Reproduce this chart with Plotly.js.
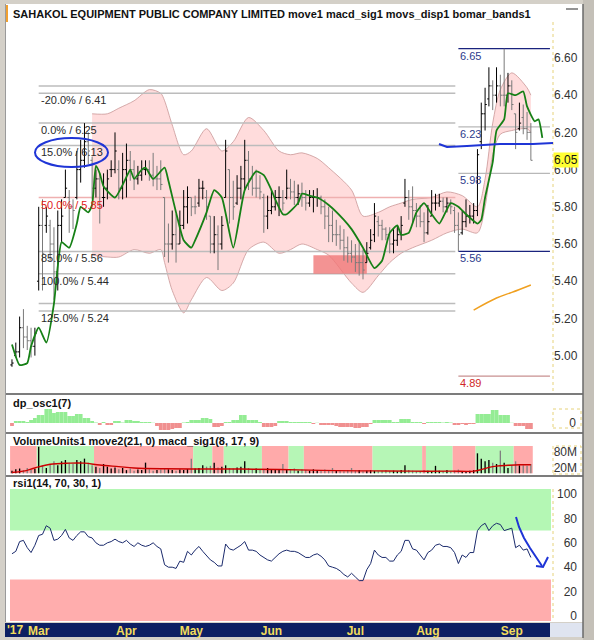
<!DOCTYPE html>
<html><head><meta charset="utf-8">
<script src="https://cdn.plot.ly/plotly-3.0.1.min.js"></script>
<style>html,body{margin:0;padding:0;background:#d4d0c8;}#chart{width:594px;height:640px;}</style>
</head><body><div id="chart"></div>
<script>
// ---------------- DATA ----------------
const monthTickIdx = [7, 30, 47, 68, 90, 109, 131];
const monthTickText = ['Mar', 'Apr', 'May', 'Jun', 'Jul', 'Aug', 'Sep'];

const barOpen = [4.95,5.00,5.02,5.15,5.10,5.08,5.05,5.40,5.70,5.70,
 5.70,5.60,5.45,5.70,5.85,5.85,5.80,5.85,6.00,6.05,
 6.15,6.05,5.90,5.95,5.85,5.90,6.00,6.00,6.00,5.90,
 6.00,6.05,6.00,5.95,5.97,6.00,6.00,5.97,5.95,5.95,
 5.85,5.60,5.60,5.65,5.60,5.70,5.80,5.85,5.80,5.82,
 5.90,5.85,5.75,5.60,5.65,5.60,5.85,6.00,5.85,5.82,
 5.90,5.95,6.05,5.95,5.90,5.90,5.85,5.75,5.78,5.80,
 5.85,5.85,5.85,5.90,5.88,5.85,5.87,5.85,5.82,5.85,
 5.85,5.85,5.80,5.75,5.70,5.65,5.65,5.62,5.58,5.55,
 5.53,5.50,5.50,5.50,5.58,5.65,5.72,5.70,5.68,5.65,
 5.60,5.62,5.65,5.82,5.85,5.80,5.78,5.75,5.72,5.66,
 5.75,5.82,5.82,5.83,5.80,5.82,5.78,5.70,5.66,5.72,
 5.75,5.75,5.78,6.15,6.30,6.38,6.45,6.40,6.45,6.40,
 6.40,6.45,6.30,6.22,6.28,6.22,6.20];
const barHigh = [4.98,5.07,5.21,5.25,5.16,5.15,5.15,5.80,5.84,5.80,
 5.73,5.69,5.78,5.84,6.00,5.89,5.84,6.10,6.16,6.25,
 6.20,6.07,6.00,5.98,5.98,6.00,6.05,6.20,6.05,6.09,
 6.14,6.10,6.05,6.02,6.05,6.05,6.05,6.09,6.02,6.05,
 5.85,5.71,5.78,5.76,5.78,5.89,5.91,5.85,5.86,5.95,
 5.94,5.89,5.75,5.75,5.70,5.75,6.16,6.00,5.94,5.97,
 6.02,6.16,6.10,6.02,6.00,5.97,5.87,5.86,5.89,5.89,
 5.91,5.89,6.00,5.95,5.94,5.92,5.93,5.89,5.89,5.89,
 5.90,5.86,5.84,5.80,5.78,5.73,5.70,5.68,5.64,5.62,
 5.60,5.61,5.57,5.61,5.68,5.82,5.75,5.73,5.69,5.69,
 5.68,5.70,5.75,5.95,5.89,5.91,5.82,5.81,5.77,5.81,
 5.89,5.87,5.87,5.85,5.85,5.84,5.80,5.77,5.78,5.84,
 5.81,5.82,6.11,6.36,6.44,6.55,6.48,6.55,6.51,6.65,
 6.52,6.48,6.30,6.36,6.35,6.31,6.25];
const barLow = [4.94,4.99,4.99,5.04,5.03,4.99,5.00,5.35,5.35,5.66,
 5.51,5.30,5.35,5.61,5.85,5.66,5.68,5.84,5.93,6.01,
 6.03,5.84,5.85,5.71,5.80,5.84,5.96,5.98,5.84,5.84,
 5.85,5.94,5.89,5.92,5.94,5.97,5.94,5.91,5.89,5.89,
 5.53,5.50,5.57,5.50,5.60,5.68,5.71,5.75,5.76,5.80,
 5.84,5.73,5.55,5.55,5.46,5.57,5.85,5.71,5.73,5.81,
 5.84,5.89,5.89,5.86,5.85,5.84,5.66,5.68,5.76,5.78,
 5.75,5.78,5.84,5.84,5.81,5.81,5.80,5.78,5.80,5.77,
 5.80,5.76,5.68,5.61,5.61,5.59,5.57,5.51,5.50,5.50,
 5.45,5.43,5.41,5.50,5.57,5.61,5.64,5.62,5.62,5.55,
 5.55,5.59,5.62,5.80,5.73,5.71,5.69,5.69,5.61,5.65,
 5.75,5.78,5.80,5.77,5.77,5.76,5.66,5.56,5.65,5.69,
 5.71,5.71,5.75,6.11,6.21,6.34,6.32,6.36,6.34,6.34,
 6.36,6.32,6.11,6.21,6.19,6.16,6.05];
const barClose = [4.96,5.02,5.15,5.10,5.08,5.05,5.12,5.70,5.55,5.75,
 5.60,5.45,5.70,5.75,5.90,5.80,5.78,6.00,6.05,6.15,
 6.10,5.90,5.95,5.80,5.85,5.95,6.00,6.10,5.90,6.00,
 6.05,6.00,5.95,5.97,6.00,6.00,5.97,5.95,5.95,5.92,
 5.60,5.60,5.65,5.60,5.70,5.80,5.85,5.80,5.80,5.90,
 5.90,5.80,5.60,5.65,5.60,5.70,6.10,5.85,5.80,5.90,
 5.95,6.05,5.95,5.90,5.90,5.88,5.75,5.78,5.80,5.85,
 5.85,5.82,5.90,5.88,5.85,5.87,5.85,5.82,5.85,5.85,
 5.85,5.80,5.75,5.70,5.65,5.65,5.62,5.58,5.55,5.53,
 5.50,5.50,5.46,5.55,5.62,5.75,5.70,5.68,5.65,5.60,
 5.62,5.65,5.70,5.85,5.80,5.78,5.75,5.72,5.66,5.72,
 5.82,5.82,5.83,5.80,5.82,5.80,5.70,5.65,5.72,5.75,
 5.75,5.78,6.08,6.30,6.35,6.45,6.40,6.45,6.40,6.40,
 6.45,6.35,6.20,6.25,6.22,6.20,6.05];

// displaced moving average (green), read at sample bars
const maIdx = [0,2,4,5,7,9,11,12,13,15,17,18,20,21,22,23,24,27,30,31,32,34,35,37,40,41,43,45,47,48,51,53,55,58,61,64,66,68,69,71,72,75,76,78,80,83,87,89,92,95,97,99,101,102,104,106,108,110,112,115,117,119,122,123,124,126,127,129,130,132,134,135,137,138,139];
const maVal = [5.06,4.95,4.96,5.05,5.15,5.07,5.28,5.48,5.61,5.58,5.71,5.80,5.77,5.81,6.02,5.98,5.91,5.85,5.96,6.00,5.95,6.00,6.01,5.95,6.01,5.94,5.77,5.62,5.58,5.62,5.77,5.89,5.85,5.58,5.89,5.99,5.97,5.89,5.84,5.76,5.76,5.82,5.87,5.86,5.85,5.81,5.73,5.68,5.58,5.47,5.51,5.66,5.70,5.65,5.66,5.77,5.82,5.76,5.71,5.82,5.80,5.76,5.71,5.73,5.85,6.04,6.21,6.27,6.41,6.40,6.42,6.34,6.26,6.27,6.17];

// bomar bands
const bandIdx = [21,25,28,32,36,39,40,42,45,47,51,55,58,62,66,70,73,76,80,83,89,92,96,99,102,105,110,114,118,122,124,126,128,131,135,136];
const bandUpper = [6.30,6.30,6.33,6.37,6.43,6.41,6.37,6.24,6.08,6.10,6.22,6.10,6.15,6.28,6.21,6.10,6.08,6.09,6.06,6.01,5.89,5.75,5.77,5.80,5.82,5.84,5.85,5.88,5.86,5.80,5.95,6.25,6.43,6.52,6.44,6.40];
const bandLower = [5.54,5.53,5.53,5.57,5.55,5.57,5.50,5.35,5.23,5.30,5.42,5.35,5.39,5.57,5.61,5.55,5.57,5.60,5.57,5.54,5.39,5.34,5.43,5.50,5.55,5.58,5.62,5.66,5.68,5.66,5.80,6.08,6.19,6.21,6.22,6.20];

// orange line
const orangeIdx = [121, 127, 131, 136];
const orangeVal = [5.245, 5.31, 5.34, 5.38];

// fibonacci levels
const fibLevels = [6.45, 6.41, 6.25, 6.13, 5.85, 5.56, 5.44, 5.28, 5.24];
const fibText = ['', '-20.0% / 6.41', '0.0% / 6.25', '15.0% / 6.13', '50.0% / 5.85', '85.0% / 5.56', '100.0% / 5.44', '', '125.0% / 5.24'];

// right-side levels
const rightLevels = [6.65, 6.23, 5.98, 5.56, 4.89];
const rightText = ['6.65', '6.23', '5.98', '5.56', '4.89'];

// highlighted zone (bar range, price range)
const zoneBars = [79, 93];
const zonePrice = [5.44, 5.54];

const lastPrice = 6.05;
const priceTicks = [5.0, 5.2, 5.4, 5.6, 5.8, 6.0, 6.2, 6.4, 6.6];

// dp oscillator
const dpVal = [-1.2,0.8,0.8,0.8,0.4,1.2,2.0,3.2,3.2,5.6,
 5.6,4.0,4.4,4.4,4.4,2.8,2.8,3.6,3.6,2.0,
 2.0,0.8,0.2,-0.8,0.4,-0.8,-0.8,0.8,0.8,0.2,
 1.2,1.2,0.8,0.8,0.4,0.4,0.4,0.1,-1.2,-2.8,
 -2.8,-2.8,-2.4,-2.0,-2.0,0.2,0.4,1.2,1.2,1.2,
 2.0,2.0,1.6,-1.6,-1.6,-1.2,0.4,0.4,1.2,1.2,
 3.2,3.2,1.2,1.2,1.2,0.4,-1.6,-1.6,-1.6,-1.2,
 0.8,0.8,0.8,0.4,0.4,0.4,0.4,0.4,0.4,-0.4,
 0.1,-0.8,-0.8,-0.8,-0.8,-1.2,-1.6,-1.6,-1.6,-1.6,
 -2.0,-2.0,-1.6,-1.6,-0.4,1.2,1.2,1.2,1.2,1.2,
 0.4,0.4,1.6,1.6,1.6,0.4,0.4,0.4,-0.4,0.4,
 0.4,0.4,0.4,0.2,0.4,0.2,-0.8,-0.8,-0.4,-0.8,
 -0.4,-0.4,3.6,3.6,3.6,3.6,5.2,5.2,3.2,3.2,
 3.2,0.1,-1.2,-1.2,-1.2,-2.4,-2.4];

// volume (millions)
const volume = [10,15,18,12,20,14,16,100,30,20,
 35,45,30,45,50,40,35,50,45,55,
 40,30,25,20,35,25,18,22,15,20,
 12,18,10,14,12,40,15,10,12,14,
 20,15,12,10,14,12,16,55,18,20,
 30,25,28,40,22,25,30,20,18,22,
 25,45,20,15,18,12,15,20,14,12,
 15,35,15,12,18,10,14,12,10,15,
 12,10,14,12,20,12,10,8,12,20,
 10,12,8,10,12,9,8,10,12,9,
 10,8,12,30,12,10,8,9,12,10,
 8,28,10,9,12,8,10,14,9,8,
 10,12,75,55,45,50,40,35,85,40,
 20,30,45,30,30,28,35];
const volMaIdx = [0,3,6,10,15,19,23,28,32,40,50,60,70,78,85,95,105,115,121,123,125,127,130,133,136];
const volMaVal = [3,8,20,34,38,38,31,25,20,17,16,16,14,12,10,9,8,8,8,14,22,27,30,32,32];
// macd_sig regime shading boundaries
const regimeBounds = [-0.5,6.5,21.5,47.5,52.5,55.5,65.5,72.5,76.5,94.5,107.5,108.5,115.5,121.5,131.5,136.5];
const regimeState = ['dn','up','dn','up','dn','up','dn','up','dn','up','dn','up','dn','up','dn'];

// RSI
const rsiVal = [51,53,61,62,56,52,58,66,67,74, 72,62,63,66,71,64,62,66,69,69,
 65,64,60,58,58,60,61,63,61,60, 62,59,57,60,58,57,58,60,57,55,
 42,40,40,39,45,44,53,50,54,57, 53,49,46,44,41,41,59,55,54,56,
 58,61,54,54,53,50,48,46,45,48, 51,53,54,53,53,52,50,48,48,50,
 51,49,46,41,40,39,37,34,32,35, 32,29,29,38,43,54,50,48,48,45,
 45,50,53,62,62,55,54,50,46,52, 54,58,59,57,57,56,52,43,50,48,
 52,52,70,74,76,70,74,76,75,70, 71,72,56,58,54,55,48];
const rsiUpper = 70, rsiLower = 30;

// ---------------- STYLE / LAYOUT ----------------
const W = 594, H = 640;
const px = x => x / W, py = y => 1 - y / H;
const FONT = 'Liberation Sans, Arial, sans-serif';
const idx = barClose.map((_, i) => i);
const FIB_X0 = 7, FIB_X1 = 116.2, RL_X0 = 117, RL_X1 = 141;
const PRICE_RANGE = [4.799, 6.7935];

const traces = [];
traces.push({type:'scatter', x:bandIdx, y:bandLower, mode:'lines', line:{color:'#c99797', width:0.8, shape:'spline', smoothing:0.8}, hoverinfo:'skip'});
traces.push({type:'scatter', x:bandIdx, y:bandUpper, mode:'lines', fill:'tonexty', fillcolor:'#ffdcdc', line:{color:'#c99797', width:0.8, shape:'spline', smoothing:0.8}, hoverinfo:'skip'});
fibLevels.forEach((v, k) => traces.push({type:'scatter', x:[FIB_X0, FIB_X1], y:[v, v], mode:'lines',
  line:{color: fibText[k].startsWith('50') ? '#efb0b0' : '#bcbcbc', width:1.5}, hoverinfo:'skip'}));
const rightColors = ['#1a237e', '#b8b8b8', '#b8b8b8', '#1a237e', '#c89090'];
rightLevels.forEach((v, k) => traces.push({type:'scatter', x:[RL_X0, RL_X1], y:[v, v], mode:'lines',
  line:{color: rightColors[k], width:1.3}, hoverinfo:'skip'}));
traces.push({type:'scatter', x:[zoneBars[0], zoneBars[1], zoneBars[1], zoneBars[0], zoneBars[0]],
  y:[zonePrice[0], zonePrice[0], zonePrice[1], zonePrice[1], zonePrice[0]], mode:'lines', fill:'toself',
  fillcolor:'rgba(240,120,120,0.8)', line:{width:0}, hoverinfo:'skip'});
traces.push({type:'scatter', x:orangeIdx, y:orangeVal, mode:'lines', line:{color:'#f0a020', width:1.5, shape:'spline'}, hoverinfo:'skip'});
// price bars and MA on an overlaying axis so they sit above the bands
traces.push({type:'ohlc', x:idx, open:barOpen, high:barHigh, low:barLow, close:barClose, tickwidth:0.45, yaxis:'y5',
  increasing:{line:{color:'#000000', width:1}}, decreasing:{line:{color:'#7a7a7a', width:1}}, hoverinfo:'skip'});
traces.push({type:'scatter', x:maIdx, y:maVal, yaxis:'y5', mode:'lines', line:{color:'#168016', width:1.8, shape:'spline', smoothing:0.5}, hoverinfo:'skip'});
// dp osc
traces.push({type:'bar', x:idx, y:dpVal, width:1, yaxis:'y2', marker:{color: dpVal.map(v => v >= 0 ? '#94ec94' : '#f09090'), line:{width:0}}, hoverinfo:'skip'});
// volume
traces.push({type:'bar', x:idx, y:volume, width:0.35, yaxis:'y3', marker:{color: barClose.map((c, i) => c >= barOpen[i] ? '#000' : '#808080'), line:{width:0}}, hoverinfo:'skip'});
traces.push({type:'scatter', x:volMaIdx, y:volMaVal, yaxis:'y3', mode:'lines', line:{color:'#cc0000', width:1.4, shape:'spline'}, hoverinfo:'skip'});
// rsi
traces.push({type:'scatter', x:idx, y:rsiVal, yaxis:'y4', mode:'lines', line:{color:'#1a2a6c', width:1}, hoverinfo:'skip'});

const shapes = [];
const rectP = (x0, y0, x1, y1, fill, extra) => Object.assign({type:'rect', xref:'paper', yref:'paper', x0:px(x0), x1:px(x1), y0:py(y1), y1:py(y0), fillcolor:fill, line:{width:0}, layer:'below'}, extra || {});
shapes.push(rectP(5, 4, 583, 622, '#ffffff'));
shapes.push(rectP(5, 5, 8, 22, '#f0a030'));
// regime shading in volume panel (0 .. panel top)
for (let k = 0; k < regimeState.length; k++) {
  shapes.push({type:'rect', xref:'x', yref:'y3', x0:regimeBounds[k], x1:regimeBounds[k+1], y0:0, y1:102.4,
    fillcolor: regimeState[k] === 'up' ? '#b6f6b6' : '#ffaaaa', line:{width:0}, layer:'below'});
}
// RSI zones
shapes.push({type:'rect', xref:'paper', yref:'y4', x0:px(10), x1:px(551), y0:rsiUpper, y1:104.2, fillcolor:'#b4f7b4', line:{width:0}, layer:'below'});
shapes.push({type:'rect', xref:'paper', yref:'y4', x0:px(10), x1:px(551), y0:-4.2, y1:rsiLower, fillcolor:'#ffadad', line:{width:0}, layer:'below'});
// bottom time bar
shapes.push(rectP(5, 623, 550, 637, '#0d1f63'));
shapes.push(rectP(550, 623, 583, 637, '#dfe4f0'));
shapes.push(rectP(583, 0, 594, 640, '#c4c0b8'));
// separators and borders
const lineP = (x0, y0, x1, y1, color, w, dash) => ({type:'line', xref:'paper', yref:'paper', x0:px(x0), x1:px(x1), y0:py(y0), y1:py(y1), line:{color:color, width:w, dash:dash || 'solid'}, layer:'above'});
shapes.push(lineP(5, 394, 583, 394, '#505050', 1.5));
shapes.push(lineP(5, 433, 583, 433, '#505050', 1.5));
shapes.push(lineP(5, 476, 583, 476, '#505050', 1.5));
shapes.push(lineP(583, 4, 583, 638, '#6a6a6a', 1.5));
shapes.push(lineP(5.5, 4, 5.5, 622, '#9a9a9a', 1));
shapes.push(lineP(553, 22, 553, 392, '#e6d27a', 1, 'dot'));
shapes.push(lineP(553, 489, 553, 621, '#e6d27a', 1, 'dot'));
shapes.push(Object.assign(rectP(553, 409, 581, 428, 'rgba(0,0,0,0)'), {line:{color:'#e6d27a', width:1, dash:'dot'}, layer:'above'}));
shapes.push(Object.assign(rectP(553, 446, 581, 474, 'rgba(0,0,0,0)'), {line:{color:'#e6d27a', width:1, dash:'dot'}, layer:'above'}));
shapes.push(lineP(566, 9, 578, 9, '#707070', 1.5));
// hand-drawn blue marks
const BLUE = '#1f35d6';
const pathP = pts => 'M' + pts.map(p => px(p[0]).toFixed(5) + ',' + py(p[1]).toFixed(5)).join(' L');
shapes.push({type:'circle', xref:'paper', yref:'paper', x0:px(35), x1:px(108), y0:py(167), y1:py(138), line:{color:BLUE, width:2}, layer:'above'});
shapes.push({type:'path', xref:'paper', yref:'paper', path:pathP([[439,144],[447,147],[467,146],[500,144],[533,144],[553,143]]), line:{color:BLUE, width:2}, layer:'above'});
shapes.push({type:'path', xref:'paper', yref:'paper', path:pathP([[516,517],[519,527],[524,538],[530,548],[536,557],[542,566]]), line:{color:BLUE, width:2}, layer:'above'});
shapes.push({type:'path', xref:'paper', yref:'paper', path:pathP([[536,566],[543,567],[548,557]]), line:{color:BLUE, width:2}, layer:'above'});

const annotations = [];
const annP = (x, y, text, font, extra) => Object.assign({xref:'paper', yref:'paper', x:px(x), y:py(y), text:text, showarrow:false, xanchor:'left', yanchor:'middle', font:Object.assign({family:FONT, size:11, color:'#111'}, font || {})}, extra || {});
annotations.push(annP(11, 14, '<b>SAHAKOL EQUIPMENT PUBLIC COMPANY LIMITED move1 macd_sig1 movs_disp1 bomar_bands1</b>', {size:11}));
annotations.push(annP(11, 403, '<b>dp_osc1(7)</b>'));
annotations.push(annP(11, 441, '<b>VolumeUnits1 move2(21, 0) macd_sig1(8, 17, 9)</b>'));
annotations.push(annP(11, 483, '<b>rsi1(14, 70, 30, 1)</b>'));
annotations.push(annP(5, 630, "<b>'17</b>", {color:'#f2dc5c', size:12}));
fibLevels.forEach((v, k) => { if (fibText[k]) annotations.push({xref:'x', yref:'y', x:FIB_X0, y:v, yshift:-7, text:fibText[k], showarrow:false, xanchor:'left', yanchor:'middle',
  font:{family:FONT, size:11, color: fibText[k].startsWith('50') ? '#e02020' : '#2a2a2a'}}); });
rightLevels.forEach((v, k) => annotations.push({xref:'x', yref:'y', x:RL_X0, y:v, yshift:-7, text:rightText[k], showarrow:false, xanchor:'left', yanchor:'middle',
  font:{family:FONT, size:11, color: k === 4 ? '#d02828' : '#2c3a8c'}}));
annotations.push({xref:'paper', yref:'y', x:px(553), y:lastPrice, text:lastPrice.toFixed(2), showarrow:false, xanchor:'left', yanchor:'middle',
  bgcolor:'#ffff33', borderpad:0, font:{family:FONT, size:12, color:'#111'}});

const yCommon = {showgrid:false, zeroline:false, showline:false, ticks:'', fixedrange:true, tickfont:{family:FONT, size:12, color:'#333'}};
const layout = {
  width:W, height:H, margin:{l:0, r:0, t:0, b:0},
  paper_bgcolor:'#d4d0c8', plot_bgcolor:'rgba(0,0,0,0)', showlegend:false,
  xaxis:{domain:[px(10), px(553)], range:[-0.52, 141.8], anchor:'free', position:py(622), showgrid:false, zeroline:false, showline:false, ticks:'',
    tickvals:monthTickIdx, ticktext:monthTickText, tickfont:{family:FONT, size:12, color:'#f2dc5c', weight:'bold'},
    rangeslider:{visible:false}, fixedrange:true},
  yaxis:Object.assign({}, yCommon, {domain:[py(393), py(22)], range:PRICE_RANGE, side:'right', anchor:'x', tickvals:priceTicks, tickformat:'.2f'}),
  yaxis5:Object.assign({}, yCommon, {overlaying:'y', range:PRICE_RANGE, side:'right', anchor:'x', visible:false, showticklabels:false}),
  yaxis2:Object.assign({}, yCommon, {domain:[py(432), py(395)], range:[-3.6, 11.2], side:'right', anchor:'free', position:px(579), ticklabelposition:'inside', tickvals:[0], ticktext:['0']}),
  yaxis3:Object.assign({}, yCommon, {domain:[py(478), py(440)], range:[-17.6, 124.9], side:'right', anchor:'free', position:px(580), ticklabelposition:'inside', tickvals:[20, 80], ticktext:['20M', '80M']}),
  yaxis4:Object.assign({}, yCommon, {domain:[py(630), py(480)], range:[-11.5, 111.5], side:'right', anchor:'free', position:px(580), ticklabelposition:'inside', tickvals:[0, 20, 40, 60, 80, 100]}),
  shapes:shapes, annotations:annotations
};
Plotly.newPlot('chart', traces, layout, {staticPlot:true, displayModeBar:false});
</script></body></html>
